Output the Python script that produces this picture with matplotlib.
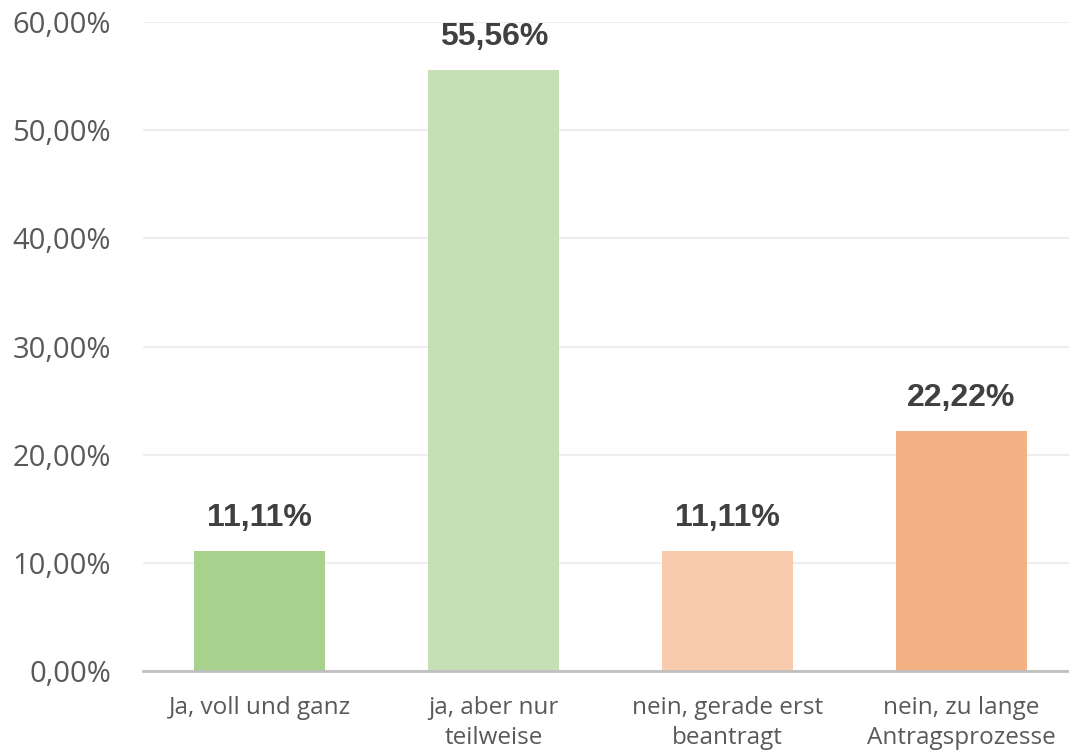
import matplotlib.pyplot as plt
from matplotlib.ticker import FuncFormatter

categories = ["Ja, voll und ganz", "ja, aber nur\nteilweise",
              "nein, gerade erst\nbeantragt", "nein, zu lange\nAntragsprozesse"]
values = [0.1111, 0.5556, 0.1111, 0.2222]
colours = ["#A9D18E", "#C5E0B4", "#F8CBAD", "#F4B183"]
yticks = [0.0, 0.1, 0.2, 0.3, 0.4, 0.5, 0.6]


def pct(v, decimals=2):
    return f"{v * 100:.{decimals}f}%".replace(".", ",")


fig = plt.figure(figsize=(10.69, 7.52), dpi=100)
ax = fig.add_axes([143 / 1069, 81 / 752, 926 / 1069, 649 / 752])

x = range(len(categories))
bars = ax.bar(x, values, width=0.56, color=colours, zorder=2)

for xi, v in zip(x, values):
    ax.annotate(pct(v), (xi, v), xytext=(0, 18), textcoords="offset pixels",
                ha="center", va="bottom", fontsize=23, fontweight="bold",
                family="Liberation Sans", color="#404040")

ax.set_xlim(-0.5, 3.46)
ax.set_ylim(0, 0.6)
ax.set_yticks(yticks)
ax.yaxis.set_major_formatter(FuncFormatter(lambda v, p: pct(v)))
ax.set_xticks(list(x))
ax.set_xticklabels(categories, fontsize=17.5, family="Open Sans", color="#595959",
                   linespacing=1.32)

for lab in ax.get_yticklabels():
    lab.set_family("Open Sans")
    lab.set_fontsize(21)
    lab.set_color("#595959")

ax.tick_params(axis="y", length=0, pad=23)
ax.tick_params(axis="x", length=0, pad=18)
ax.grid(axis="y", color="#EEEEEE", linewidth=1.5, zorder=0)
for s in ["top", "right", "left"]:
    ax.spines[s].set_visible(False)
ax.spines["bottom"].set_color("#BFBFBF")
ax.spines["bottom"].set_linewidth(2)
ax.spines["bottom"].set_zorder(3)

fig.savefig("out.png", dpi=100)
